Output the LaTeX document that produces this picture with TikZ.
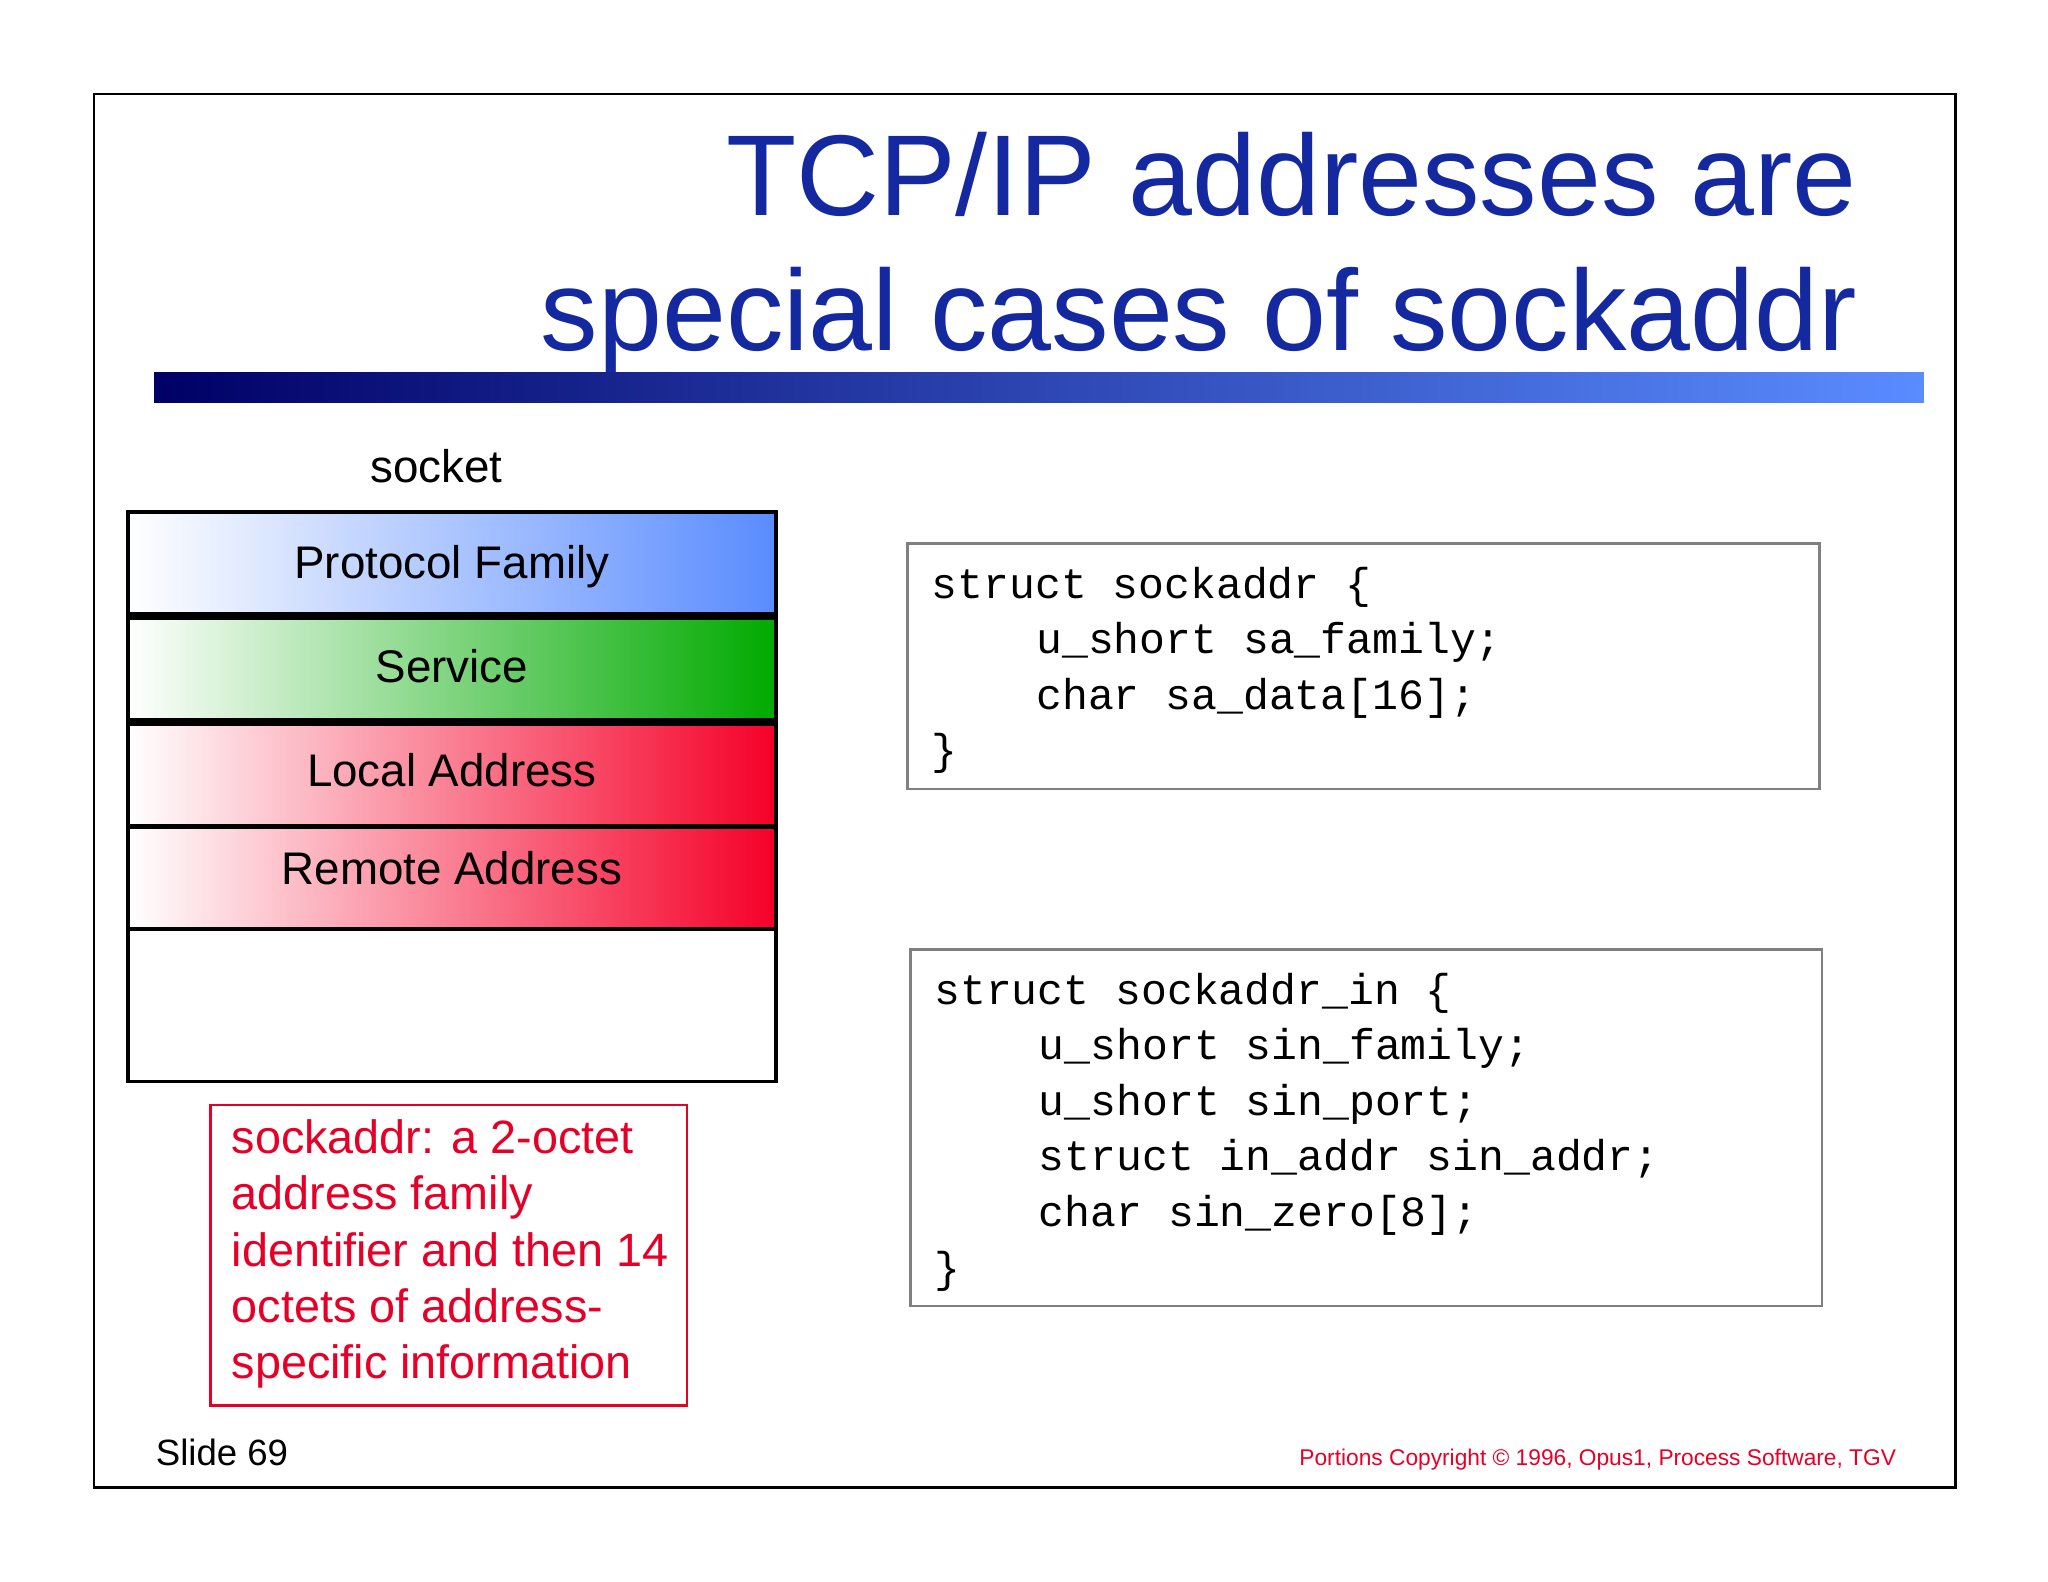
\documentclass[tikz,border=0pt]{standalone}
\usepackage{fontspec}
\setmainfont{Liberation Sans}
\setmonofont{Liberation Mono}
\definecolor{titleblue}{RGB}{20,40,160}
\definecolor{slidered}{RGB}{230,0,40}
\definecolor{pfblue}{RGB}{90,140,255}
\definecolor{svgreen}{RGB}{0,170,0}
\definecolor{adred}{RGB}{245,0,40}
\tikzset{
  layer/.style={draw=black,line width=1.5pt},
  codebox/.style={draw=gray,line width=1pt},
  code/.style={anchor=base west,inner sep=0pt,font=\ttfamily\fontsize{16.5}{20}\selectfont},
  label/.style={font=\fontsize{17.5}{20}\selectfont}
}
\begin{document}
\begin{tikzpicture}[x=0.5pt,y=-0.5pt]
		\useasboundingbox (0,0) rectangle (1568,1211);
		\draw[line width=1pt] (72,72) rectangle (1497,1139);
		% title
		\node[anchor=base east,inner sep=0pt,text=titleblue,font=\fontsize{44}{52}\selectfont] (title1) at (1422,165) {TCP/IP addresses are};
		\node[anchor=base east,inner sep=0pt,text=titleblue,font=\fontsize{44}{52}\selectfont] (title2) at (1422,268) {special cases of sockaddr};
		\shade[left color=black!60!blue,right color=pfblue] (118,285) rectangle (1473,308);
		% socket stack
		\node[label] (socket) at (334,357) {socket};
		\draw[layer] (98,392) rectangle (594,828);
		\shade[left color=white,right color=pfblue] (98,392) rectangle (594,470);
		\draw[layer] (98,392) rectangle (594,470);
		\shade[left color=white,right color=svgreen] (98,473) rectangle (594,551);
		\draw[layer] (98,473) rectangle (594,551);
		\shade[left color=white,right color=adred] (98,554) rectangle (594,632);
		\draw[layer] (98,554) rectangle (594,632);
		\shade[left color=white,right color=adred] (98,633) rectangle (594,711);
		\draw[layer] (98,633) rectangle (594,711);
		\node[label] (pf) at (346,434) {Protocol Family};
		\node[label] (sv) at (346,510) {Service};
		\node[label] (la) at (346,590) {Local Address};
		\node[label] (ra) at (346,665) {Remote Address};
		% note
		\draw[slidered,line width=1pt] (161,846) rectangle (526,1076);
		\node[anchor=north west,inner sep=0pt,text=slidered,align=left,font=\fontsize{17.9}{21.5}\selectfont] (note) at (177,857)
			{sockaddr: a 2-octet\\address family\\identifier and then 14\\octets of address-\\specific information};
		% code
		\draw[codebox] (695,416) rectangle (1393,604);
		\node[code] (c1) at (713,458) {struct sockaddr \{};
		\node[code] (c2) at (793,500) {u\_short sa\_family;};
		\node[code] (c3) at (793,543) {char sa\_data[16];};
		\node[code] (c4) at (713,585) {\}};
		\draw[codebox] (697,727) rectangle (1395,1000);
		\node[code] (d1) at (715,769) {struct sockaddr\_in \{};
		\node[code] (d2) at (795,811) {u\_short sin\_family;};
		\node[code] (d3) at (795,854) {u\_short sin\_port;};
		\node[code] (d4) at (795,896) {struct in\_addr sin\_addr;};
		\node[code] (d5) at (795,939) {char sin\_zero[8];};
		\node[code] (d6) at (715,982) {\}};
		% footer
		\node[anchor=base west,inner sep=0pt,font=\fontsize{14}{16}\selectfont] (slide) at (119,1122) {Slide 69};
		\node[anchor=base east,inner sep=0pt,text=slidered,font=\fontsize{8.7}{11}\selectfont] (copy) at (1452,1122) {Portions Copyright \textcopyright{} 1996, Opus1, Process Software, TGV};
	\end{tikzpicture}
\end{document}
